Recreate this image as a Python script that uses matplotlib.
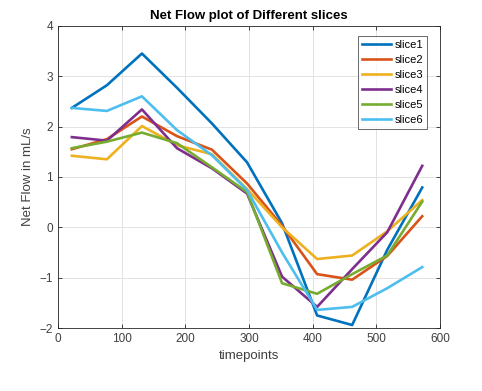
import numpy as np
import matplotlib
matplotlib.use('Agg')
import matplotlib.pyplot as plt

# === 数据 ===
timepoints = [22, 77, 132, 187, 242, 297, 352, 407, 462, 517, 572]
slice1 = [2.37, 2.82, 3.45, 2.77, 2.06, 1.29, 0.08, -1.75, -1.94, -0.45, 0.79]
slice2 = [1.55, 1.75, 2.20, 1.81, 1.54, 0.87, 0.03, -0.93, -1.04, -0.57, 0.22]
slice3 = [1.42, 1.35, 2.01, 1.63, 1.45, 0.76, 0.00, -0.63, -0.56, -0.08, 0.54]
slice4 = [1.79, 1.72, 2.34, 1.57, 1.17, 0.67, -0.98, -1.58, -0.83, -0.10, 1.22]
slice5 = [1.57, 1.70, 1.88, 1.67, 1.19, 0.70, -1.11, -1.32, -0.93, -0.56, 0.51]
slice6 = [2.37, 2.31, 2.60, 1.93, 1.43, 0.74, -0.50, -1.64, -1.58, -1.21, -0.79]

series = [slice1, slice2, slice3, slice4, slice5, slice6]
names = ['slice1', 'slice2', 'slice3', 'slice4', 'slice5', 'slice6']
colors = ['#0072BD', '#D95319', '#EDB120', '#7E2F8E', '#77AC30', '#4DBEEE']

plt.rcParams['font.family'] = ['Liberation Sans', 'DejaVu Sans']

fig = plt.figure(figsize=(4.82, 3.91), dpi=100)
ax = fig.add_axes([0.120, 0.161, 0.793, 0.773])

for ys, name, c in zip(series, names, colors):
    ax.plot(timepoints, ys, color=c, linewidth=1.9, label=name)

ax.set_xlim(0, 600)
ax.set_ylim(-2, 4)
ax.set_xticks(range(0, 601, 100))
ax.set_yticks(range(-2, 5))
ax.grid(True, color='#e3e3e3', linewidth=0.7)
ax.set_axisbelow(True)

axis_col = '#262626'
for s in ax.spines.values():
    s.set_color(axis_col)
    s.set_linewidth(0.6)
ax.tick_params(direction='in', length=3, width=0.6, colors=axis_col,
               labelsize=8.5, top=True, right=True, labelcolor='#404040')

ax.set_xlabel('timepoints', fontsize=9.5, color='#404040')
ax.set_ylabel('Net Flow in mL/s', fontsize=9.5, color='#404040')
ax.set_title('Net Flow plot of Different slices', fontsize=9.5,
             fontweight='bold', color='black', pad=5)

leg = ax.legend(loc='upper right', fontsize=8, frameon=True, fancybox=False,
                edgecolor=axis_col, bbox_to_anchor=(0.966, 0.965),
                borderaxespad=0.0, handlelength=2.6, handletextpad=0.3,
                labelspacing=0.45, borderpad=0.35)
leg.get_frame().set_linewidth(0.6)

plt.savefig('out.png', dpi=100)
plt.close()
